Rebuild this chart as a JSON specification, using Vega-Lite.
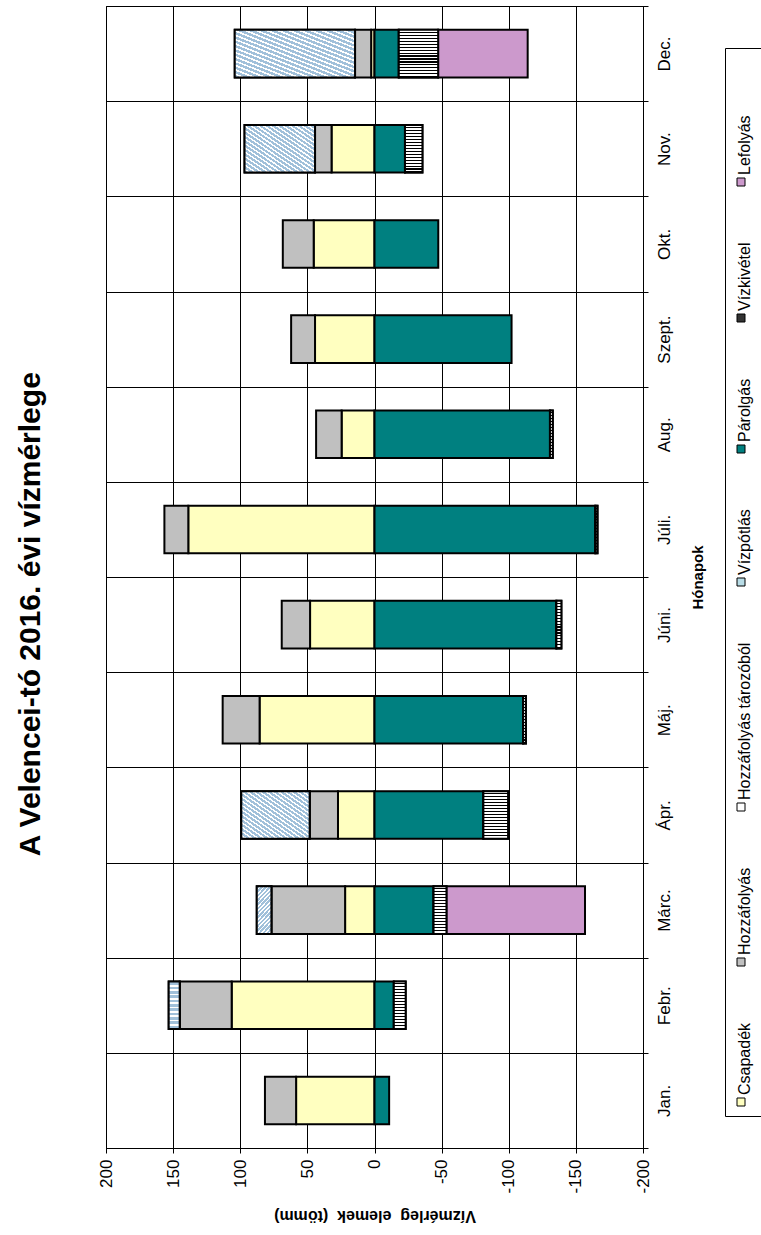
{
  "$schema": "https://vega.github.io/schema/vega-lite/v6.json",
  "width": 537,
  "height": 1142,
  "autosize": {"type": "none"},
  "padding": {"left": 106, "top": 6, "right": 118, "bottom": 87},
  "background": "white",
  "config": {
    "font": "Liberation Sans",
    "view": {"stroke": "black", "strokeWidth": 1}
  },
  "title": {
    "text": "A Velencei-tó  2016.  évi vízmérlege",
    "orient": "left",
    "anchor": "middle",
    "frame": "bounds",
    "fontSize": 30,
    "fontWeight": "bold",
    "font": "Liberation Sans",
    "color": "black",
    "offset": 51
  },
  "data": {
    "values": [
      {"month": "Jan.", "series": "Csapadék", "value": 58.4},
      {"month": "Jan.", "series": "Hozzáfolyás", "value": 23.2},
      {"month": "Jan.", "series": "Párolgás", "value": -10.9},
      {"month": "Febr.", "series": "Csapadék", "value": 106.4},
      {"month": "Febr.", "series": "Hozzáfolyás", "value": 38.7},
      {"month": "Febr.", "series": "Vízpótlás", "value": 8.2},
      {"month": "Febr.", "series": "Párolgás", "value": -14.4},
      {"month": "Febr.", "series": "Vízkivétel", "value": -8.8},
      {"month": "Márc.", "series": "Csapadék", "value": 21.9},
      {"month": "Márc.", "series": "Hozzáfolyás", "value": 54.9},
      {"month": "Márc.", "series": "Vízpótlás", "value": 10.9},
      {"month": "Márc.", "series": "Párolgás", "value": -44.0},
      {"month": "Márc.", "series": "Vízkivétel", "value": -9.6},
      {"month": "Márc.", "series": "Lefolyás", "value": -103.2},
      {"month": "Ápr.", "series": "Csapadék", "value": 27.2},
      {"month": "Ápr.", "series": "Hozzáfolyás", "value": 21.1},
      {"month": "Ápr.", "series": "Vízpótlás", "value": 50.9},
      {"month": "Ápr.", "series": "Párolgás", "value": -81.1},
      {"month": "Ápr.", "series": "Vízkivétel", "value": -18.4},
      {"month": "Máj.", "series": "Csapadék", "value": 85.6},
      {"month": "Máj.", "series": "Hozzáfolyás", "value": 27.5},
      {"month": "Máj.", "series": "Párolgás", "value": -110.7},
      {"month": "Máj.", "series": "Vízkivétel", "value": -2.1},
      {"month": "Júni.", "series": "Csapadék", "value": 48.0},
      {"month": "Júni.", "series": "Hozzáfolyás", "value": 21.1},
      {"month": "Júni.", "series": "Párolgás", "value": -135.5},
      {"month": "Júni.", "series": "Vízkivétel", "value": -3.7},
      {"month": "Júli.", "series": "Csapadék", "value": 138.7},
      {"month": "Júli.", "series": "Hozzáfolyás", "value": 17.8},
      {"month": "Júli.", "series": "Párolgás", "value": -164.5},
      {"month": "Júli.", "series": "Vízkivétel", "value": -1.6},
      {"month": "Aug.", "series": "Csapadék", "value": 24.5},
      {"month": "Aug.", "series": "Hozzáfolyás", "value": 19.0},
      {"month": "Aug.", "series": "Párolgás", "value": -130.7},
      {"month": "Aug.", "series": "Vízkivétel", "value": -2.1},
      {"month": "Szept.", "series": "Csapadék", "value": 44.3},
      {"month": "Szept.", "series": "Hozzáfolyás", "value": 17.8},
      {"month": "Szept.", "series": "Párolgás", "value": -102.1},
      {"month": "Okt.", "series": "Csapadék", "value": 45.3},
      {"month": "Okt.", "series": "Hozzáfolyás", "value": 23.0},
      {"month": "Okt.", "series": "Párolgás", "value": -47.5},
      {"month": "Nov.", "series": "Csapadék", "value": 32.0},
      {"month": "Nov.", "series": "Hozzáfolyás", "value": 12.3},
      {"month": "Nov.", "series": "Vízpótlás", "value": 52.5},
      {"month": "Nov.", "series": "Párolgás", "value": -22.7},
      {"month": "Nov.", "series": "Vízkivétel", "value": -13.0},
      {"month": "Dec.", "series": "Csapadék", "value": 2.5},
      {"month": "Dec.", "series": "Hozzáfolyás", "value": 12.0},
      {"month": "Dec.", "series": "Vízpótlás", "value": 89.6},
      {"month": "Dec.", "series": "Párolgás", "value": -18.1},
      {"month": "Dec.", "series": "Vízkivétel", "value": -29.3},
      {"month": "Dec.", "series": "Lefolyás", "value": -66.7}
    ]
  },
  "transform": [
    {"stack": "value", "groupby": ["month"], "offset": "zero", "as": ["v0", "v1"]}
  ],
  "encoding": {
    "y": {
      "field": "month",
      "type": "nominal",
      "sort": ["Dec.", "Nov.", "Okt.", "Szept.", "Aug.", "Júli.", "Júni.", "Máj.", "Ápr.", "Márc.", "Febr.", "Jan."],
      "scale": {"paddingInner": 0, "paddingOuter": 0},
      "axis": {
        "orient": "right",
        "title": "Hónapok",
        "titleFont": "Liberation Sans",
        "titleFontSize": 15,
        "titleFontWeight": "bold",
        "titleColor": "black",
        "titleAngle": 270,
        "titleBaseline": "middle",
        "titleAlign": "center",
        "titleX": 54,
        "titleY": 571,
        "grid": true,
        "gridColor": "black",
        "gridOpacity": 1,
        "gridWidth": 1,
        "tickBand": "extent",
        "tickColor": "black",
        "tickSize": 5,
        "domainColor": "black",
        "labelAngle": 270,
        "labelAlign": "center",
        "labelBaseline": "top",
        "labelPadding": 8,
        "labelFontSize": 17,
        "labelColor": "black"
      }
    },
    "x": {
      "field": "v0",
      "type": "quantitative",
      "scale": {"domain": [-200, 200], "reverse": true, "nice": false, "zero": false},
      "axis": {
        "values": [-200, -150, -100, -50, 0, 50, 100, 150, 200],
        "labelExpr": "'' + datum.value",
        "grid": true,
        "gridColor": "black",
        "gridOpacity": 1,
        "gridWidth": 1,
        "domainColor": "black",
        "tickColor": "black",
        "tickSize": 5,
        "labelAngle": 270,
        "labelAlign": "right",
        "labelBaseline": "middle",
        "labelPadding": 6,
        "labelFontSize": 17,
        "labelColor": "black",
        "title": "Vízmérleg\u00a0 elemek\u00a0 (tömm)",
        "titleFont": "Liberation Sans",
        "titleFontSize": 16,
        "titleFontWeight": "bold",
        "titleColor": "black",
        "titleAngle": 180,
        "titleBaseline": "middle",
        "titleAlign": "center",
        "titleX": 268.5,
        "titleY": 67
      }
    },
    "x2": {"field": "v1"}
  },
  "layer": [
    {
      "mark": {"type": "bar", "stroke": "black", "strokeWidth": 2, "height": {"band": 0.5}},
      "encoding": {
        "color": {
          "field": "series",
          "type": "nominal",
          "scale": {
            "domain": ["Lefolyás", "Vízkivétel", "Párolgás", "Vízpótlás", "Hozzáfolyás tározóból", "Hozzáfolyás", "Csapadék"],
            "range": ["#cc99cc", "#333333", "#008080", "#b8dce6", "#ffffff", "#c0c0c0", "#ffffc0"]
          },
          "legend": {
            "orient": "none",
            "legendX": 619,
            "legendY": 42,
            "direction": "vertical",
            "columns": 1,
            "title": ".",
            "titleColor": "white",
            "titleFontSize": 2,
            "titlePadding": 116,
            "titleOrient": "top",
            "strokeColor": "black",
            "fillColor": "white",
            "padding": 8,
            "rowPadding": 54,
            "symbolType": "square",
            "symbolSize": 64,
            "symbolStrokeColor": "black",
            "symbolStrokeWidth": 1,
            "symbolOpacity": 1,
            "labelFont": "Liberation Sans",
            "labelFontSize": 16,
            "labelColor": "black",
            "labelLimit": 400,
            "labelOffset": -4,
            "encoding": {
              "labels": {
                "angle": {"value": -90},
                "align": {"value": "left"},
                "baseline": {"value": "middle"},
                "dx": {"value": 7}
              }
            }
          }
        }
      }
    },
    {
      "transform": [{"filter": "datum.series === 'Vízpótlás'"}],
      "mark": {
        "type": "bar",
        "stroke": "black",
        "strokeWidth": 2,
        "height": {"band": 0.5},
        "fill": {
          "gradient": "linear",
          "x1": 0, "y1": 1, "x2": 1, "y2": 0,
          "stops": [
            {"offset": 0, "color": "#a0c0da"}, {"offset": 0.027, "color": "#a0c0da"}, {"offset": 0.027, "color": "#ffffff"}, {"offset": 0.0455, "color": "#ffffff"},
            {"offset": 0.0455, "color": "#a0c0da"}, {"offset": 0.0725, "color": "#a0c0da"}, {"offset": 0.0725, "color": "#ffffff"}, {"offset": 0.0909, "color": "#ffffff"},
            {"offset": 0.0909, "color": "#a0c0da"}, {"offset": 0.1179, "color": "#a0c0da"}, {"offset": 0.1179, "color": "#ffffff"}, {"offset": 0.1364, "color": "#ffffff"},
            {"offset": 0.1364, "color": "#a0c0da"}, {"offset": 0.1634, "color": "#a0c0da"}, {"offset": 0.1634, "color": "#ffffff"}, {"offset": 0.1818, "color": "#ffffff"},
            {"offset": 0.1818, "color": "#a0c0da"}, {"offset": 0.2088, "color": "#a0c0da"}, {"offset": 0.2088, "color": "#ffffff"}, {"offset": 0.2273, "color": "#ffffff"},
            {"offset": 0.2273, "color": "#a0c0da"}, {"offset": 0.2543, "color": "#a0c0da"}, {"offset": 0.2543, "color": "#ffffff"}, {"offset": 0.2727, "color": "#ffffff"},
            {"offset": 0.2727, "color": "#a0c0da"}, {"offset": 0.2997, "color": "#a0c0da"}, {"offset": 0.2997, "color": "#ffffff"}, {"offset": 0.3182, "color": "#ffffff"},
            {"offset": 0.3182, "color": "#a0c0da"}, {"offset": 0.3452, "color": "#a0c0da"}, {"offset": 0.3452, "color": "#ffffff"}, {"offset": 0.3636, "color": "#ffffff"},
            {"offset": 0.3636, "color": "#a0c0da"}, {"offset": 0.3906, "color": "#a0c0da"}, {"offset": 0.3906, "color": "#ffffff"}, {"offset": 0.4091, "color": "#ffffff"},
            {"offset": 0.4091, "color": "#a0c0da"}, {"offset": 0.4361, "color": "#a0c0da"}, {"offset": 0.4361, "color": "#ffffff"}, {"offset": 0.4545, "color": "#ffffff"},
            {"offset": 0.4545, "color": "#a0c0da"}, {"offset": 0.4815, "color": "#a0c0da"}, {"offset": 0.4815, "color": "#ffffff"}, {"offset": 0.5, "color": "#ffffff"},
            {"offset": 0.5, "color": "#a0c0da"}, {"offset": 0.527, "color": "#a0c0da"}, {"offset": 0.527, "color": "#ffffff"}, {"offset": 0.5455, "color": "#ffffff"},
            {"offset": 0.5455, "color": "#a0c0da"}, {"offset": 0.5725, "color": "#a0c0da"}, {"offset": 0.5725, "color": "#ffffff"}, {"offset": 0.5909, "color": "#ffffff"},
            {"offset": 0.5909, "color": "#a0c0da"}, {"offset": 0.6179, "color": "#a0c0da"}, {"offset": 0.6179, "color": "#ffffff"}, {"offset": 0.6364, "color": "#ffffff"},
            {"offset": 0.6364, "color": "#a0c0da"}, {"offset": 0.6634, "color": "#a0c0da"}, {"offset": 0.6634, "color": "#ffffff"}, {"offset": 0.6818, "color": "#ffffff"},
            {"offset": 0.6818, "color": "#a0c0da"}, {"offset": 0.7088, "color": "#a0c0da"}, {"offset": 0.7088, "color": "#ffffff"}, {"offset": 0.7273, "color": "#ffffff"},
            {"offset": 0.7273, "color": "#a0c0da"}, {"offset": 0.7543, "color": "#a0c0da"}, {"offset": 0.7543, "color": "#ffffff"}, {"offset": 0.7727, "color": "#ffffff"},
            {"offset": 0.7727, "color": "#a0c0da"}, {"offset": 0.7997, "color": "#a0c0da"}, {"offset": 0.7997, "color": "#ffffff"}, {"offset": 0.8182, "color": "#ffffff"},
            {"offset": 0.8182, "color": "#a0c0da"}, {"offset": 0.8452, "color": "#a0c0da"}, {"offset": 0.8452, "color": "#ffffff"}, {"offset": 0.8636, "color": "#ffffff"},
            {"offset": 0.8636, "color": "#a0c0da"}, {"offset": 0.8906, "color": "#a0c0da"}, {"offset": 0.8906, "color": "#ffffff"}, {"offset": 0.9091, "color": "#ffffff"},
            {"offset": 0.9091, "color": "#a0c0da"}, {"offset": 0.9361, "color": "#a0c0da"}, {"offset": 0.9361, "color": "#ffffff"}, {"offset": 0.9545, "color": "#ffffff"},
            {"offset": 0.9545, "color": "#a0c0da"}, {"offset": 0.9815, "color": "#a0c0da"}, {"offset": 0.9815, "color": "#ffffff"}, {"offset": 1, "color": "#ffffff"}
          ]
        }
      }
    },
    {
      "transform": [{"filter": "datum.series === 'Vízkivétel'"}],
      "mark": {
        "type": "bar",
        "stroke": "black",
        "strokeWidth": 2,
        "height": {"band": 0.5},
        "fill": {
          "gradient": "linear",
          "x1": 0, "y1": 0, "x2": 0, "y2": 1,
          "stops": [
            {"offset": 0, "color": "#ffffff"}, {"offset": 0.04, "color": "#ffffff"}, {"offset": 0.04, "color": "#000000"}, {"offset": 0.0625, "color": "#000000"},
            {"offset": 0.0625, "color": "#ffffff"}, {"offset": 0.1025, "color": "#ffffff"}, {"offset": 0.1025, "color": "#000000"}, {"offset": 0.125, "color": "#000000"},
            {"offset": 0.125, "color": "#ffffff"}, {"offset": 0.165, "color": "#ffffff"}, {"offset": 0.165, "color": "#000000"}, {"offset": 0.1875, "color": "#000000"},
            {"offset": 0.1875, "color": "#ffffff"}, {"offset": 0.2275, "color": "#ffffff"}, {"offset": 0.2275, "color": "#000000"}, {"offset": 0.25, "color": "#000000"},
            {"offset": 0.25, "color": "#ffffff"}, {"offset": 0.29, "color": "#ffffff"}, {"offset": 0.29, "color": "#000000"}, {"offset": 0.3125, "color": "#000000"},
            {"offset": 0.3125, "color": "#ffffff"}, {"offset": 0.3525, "color": "#ffffff"}, {"offset": 0.3525, "color": "#000000"}, {"offset": 0.375, "color": "#000000"},
            {"offset": 0.375, "color": "#ffffff"}, {"offset": 0.415, "color": "#ffffff"}, {"offset": 0.415, "color": "#000000"}, {"offset": 0.4375, "color": "#000000"},
            {"offset": 0.4375, "color": "#ffffff"}, {"offset": 0.4775, "color": "#ffffff"}, {"offset": 0.4775, "color": "#000000"}, {"offset": 0.5, "color": "#000000"},
            {"offset": 0.5, "color": "#ffffff"}, {"offset": 0.54, "color": "#ffffff"}, {"offset": 0.54, "color": "#000000"}, {"offset": 0.5625, "color": "#000000"},
            {"offset": 0.5625, "color": "#ffffff"}, {"offset": 0.6025, "color": "#ffffff"}, {"offset": 0.6025, "color": "#000000"}, {"offset": 0.625, "color": "#000000"},
            {"offset": 0.625, "color": "#ffffff"}, {"offset": 0.665, "color": "#ffffff"}, {"offset": 0.665, "color": "#000000"}, {"offset": 0.6875, "color": "#000000"},
            {"offset": 0.6875, "color": "#ffffff"}, {"offset": 0.7275, "color": "#ffffff"}, {"offset": 0.7275, "color": "#000000"}, {"offset": 0.75, "color": "#000000"},
            {"offset": 0.75, "color": "#ffffff"}, {"offset": 0.79, "color": "#ffffff"}, {"offset": 0.79, "color": "#000000"}, {"offset": 0.8125, "color": "#000000"},
            {"offset": 0.8125, "color": "#ffffff"}, {"offset": 0.8525, "color": "#ffffff"}, {"offset": 0.8525, "color": "#000000"}, {"offset": 0.875, "color": "#000000"},
            {"offset": 0.875, "color": "#ffffff"}, {"offset": 0.915, "color": "#ffffff"}, {"offset": 0.915, "color": "#000000"}, {"offset": 0.9375, "color": "#000000"},
            {"offset": 0.9375, "color": "#ffffff"}, {"offset": 0.9775, "color": "#ffffff"}, {"offset": 0.9775, "color": "#000000"}, {"offset": 1, "color": "#000000"}
          ]
        }
      }
    }
  ]
}
